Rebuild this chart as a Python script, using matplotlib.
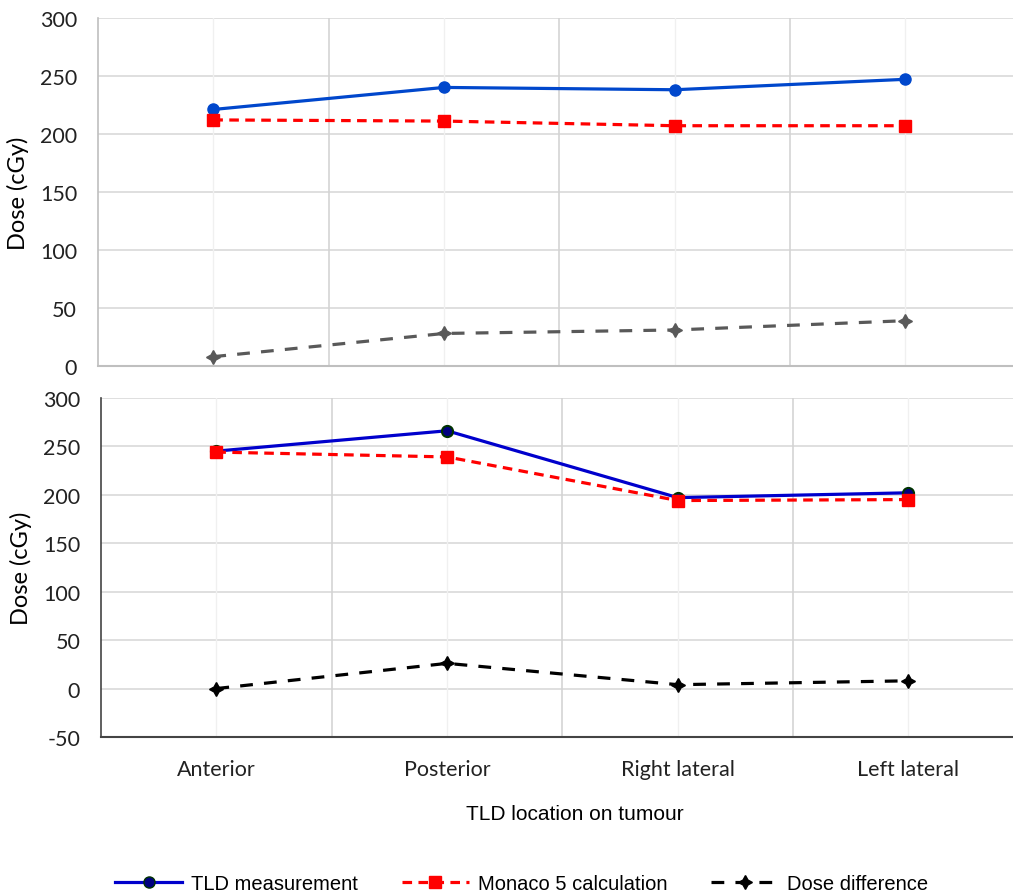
import numpy as np
import matplotlib.pyplot as plt
from matplotlib.lines import Line2D

plt.rcParams['axes.unicode_minus'] = False

locations = ['Anterior', 'Posterior', 'Right lateral', 'Left lateral']

# upper panel
tld_top = [221, 240, 238, 247]
monaco_top = [212, 211, 207, 207]
diff_top = [8, 28, 31, 39]

# lower panel
tld_bot = [245, 266, 197, 202]
monaco_bot = [244, 239, 194, 195]
diff_bot = [0, 26, 4, 8]

tick_font = ['Lato', 'DejaVu Sans']
star = (4, 1, 0)
x = np.arange(len(locations))

fig = plt.figure(figsize=(10.13, 8.95), dpi=100)
ax1 = fig.add_axes([0.0967, 0.590, 0.911, 0.389])
ax2 = fig.add_axes([0.0997, 0.1754, 0.911, 0.379])


def style_axes(ax, yticks, spine_col):
    ax.set_xlim(-0.5, 3.5)
    ax.set_ylim(yticks[0], yticks[-1])
    ax.set_yticks(yticks)
    ax.set_xticks(x)
    ax.tick_params(length=0, labelsize=15.5)
    ax.tick_params(axis='y', pad=15)
    for lab in ax.get_yticklabels() + ax.get_xticklabels():
        lab.set_family(tick_font)
        lab.set_color('#222222')
    for yv in yticks[1:]:
        ax.axhline(yv, color='#d9d9d9', lw=1.2, zorder=0)
    for xv in [0.5, 1.5, 2.5]:
        ax.axvline(xv, color='#d4d4d4', lw=1.2, zorder=0)
    for xv in x:
        ax.axvline(xv, color='#f0f0f0', lw=1.0, zorder=0)
    for s in ['top', 'right']:
        ax.spines[s].set_visible(False)
    ax.spines['left'].set_color(spine_col)
    ax.spines['bottom'].set_color(spine_col)
    ax.spines['left'].set_linewidth(1.2)
    ax.spines['bottom'].set_linewidth(1.5)
    ax.set_ylabel('Dose (cGy)', fontsize=17, family=tick_font, labelpad=8)


style_axes(ax1, np.arange(0, 301, 50), '#bfbfbf')
ax1.set_xticklabels([])
ax1.plot(x, tld_top, '-o', color='#0047CC', lw=2.3, ms=8, zorder=3)
ax1.plot(x, monaco_top, '--s', color='#FF0000', lw=2.3, ms=9, dashes=(3, 2), zorder=3)
ax1.plot(x, diff_top, '--', marker=star, color='#595959', lw=2.3, ms=10,
         dashes=(4, 3.5), zorder=3)

style_axes(ax2, np.arange(-50, 301, 50), '#444444')
ax2.set_xticklabels(locations)
ax2.tick_params(axis='x', pad=16)
ax2.plot(x, tld_bot, '-o', color='#0000CC', lw=2.3, ms=8, mfc='#000080',
         mec='#003300', mew=1.5, zorder=3)
ax2.plot(x, monaco_bot, '--s', color='#FF0000', lw=2.3, ms=9, dashes=(3, 2), zorder=4)
ax2.plot(x, diff_bot, '--', marker=star, color='#000000', lw=2.3, ms=10,
         dashes=(4, 3.5), zorder=3)

fig.text(0.567, 0.09, 'TLD location on tumour', ha='center', va='center',
         fontsize=15, family=['Liberation Sans', 'DejaVu Sans'])

handles = [
    Line2D([], [], color='#0000CC', lw=2.3, marker='o', ms=8, mfc='#000080', mec='#003300'),
    Line2D([], [], color='#FF0000', lw=2.3, ls='--', dashes=(3, 2), marker='s', ms=9),
    Line2D([], [], color='#000000', lw=2.3, ls='--', dashes=(4, 3.5), marker=star, ms=10),
]
labels = ['TLD measurement', 'Monaco 5 calculation', 'Dose difference']
fig.legend(handles, labels, loc='center', bbox_to_anchor=(0.515, 0.012), ncol=3,
           frameon=False, handlelength=3.3, columnspacing=2.2, handletextpad=0.45,
           prop={'family': ['Liberation Sans', 'DejaVu Sans'], 'size': 14.5})

fig.savefig('out.png', dpi=100)
